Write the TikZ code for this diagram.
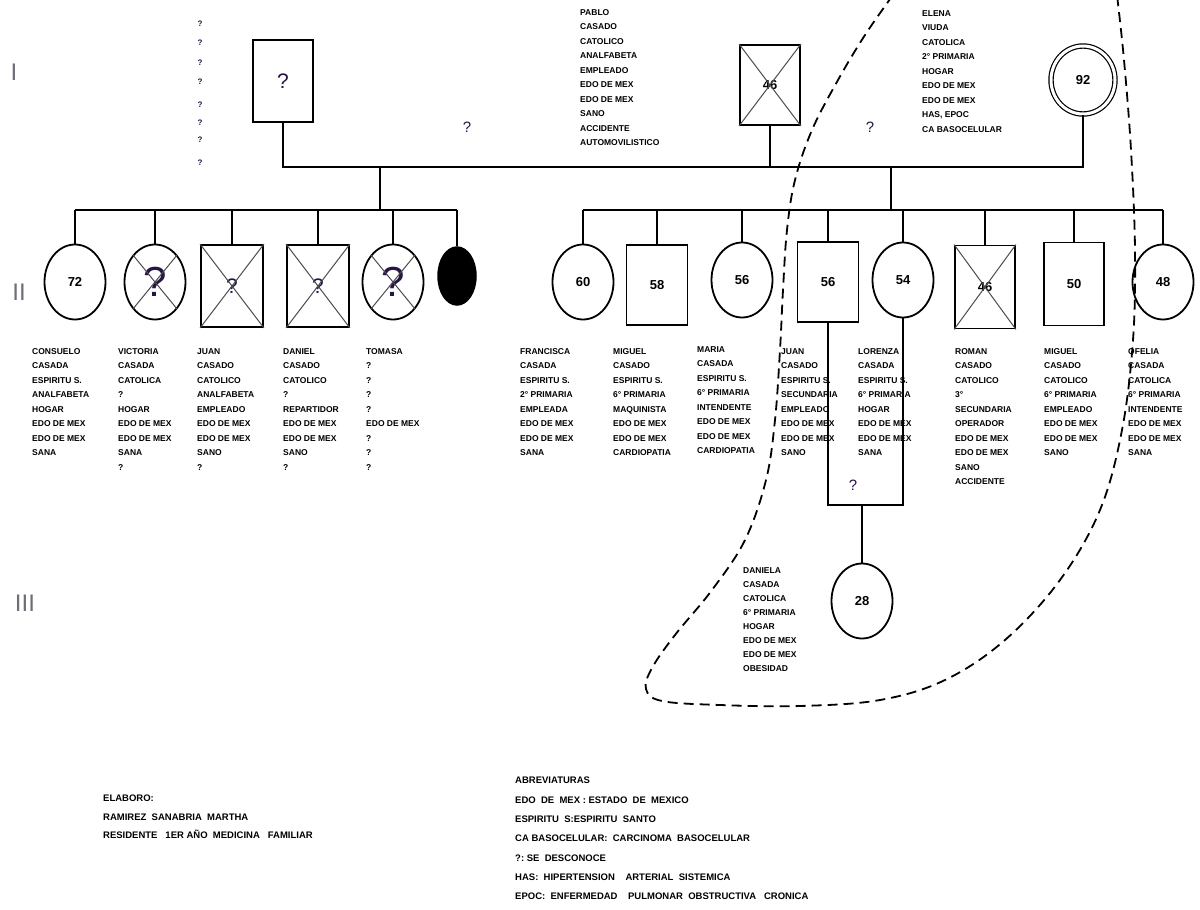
\documentclass[tikz,border=0pt]{standalone}
\usepackage{fontspec}
\setmainfont{Liberation Sans}
\usetikzlibrary{shapes.geometric}
\definecolor{gencol}{RGB}{110,110,120}
\definecolor{qcol}{RGB}{40,20,70}
\begin{document}
\begin{tikzpicture}[x=1pt,y=-1pt,
  sq/.style={draw,line width=1.8pt,rectangle,minimum width=61pt,minimum height=81pt,inner sep=0pt,font=\fontsize{13}{13}\selectfont\bfseries},
  ci/.style={draw,line width=1.8pt,ellipse,minimum width=61pt,minimum height=75pt,inner sep=0pt,font=\fontsize{13}{13}\selectfont\bfseries},
  info/.style={anchor=north west,align=left,inner sep=0pt,font=\fontsize{8.5}{14.5}\selectfont\bfseries},
  foot/.style={anchor=north west,align=left,inner sep=0pt,font=\fontsize{9.5}{19.3}\selectfont\bfseries},
  ln/.style={line width=1.8pt},
  xl/.style={line width=1pt,black!70},
  gen/.style={font=\fontsize{24}{24}\selectfont,text=gencol,inner sep=0pt},
  qm/.style={font=\fontsize{15}{15}\selectfont,text=qcol,inner sep=0pt},
  bigq/.style={font=\fontsize{42}{42}\selectfont,text=qcol},
  midq/.style={font=\fontsize{21}{21}\selectfont,text=qcol}
]
\clip (0,0) rectangle (1200,910);
\fill[white] (0,0) rectangle (1200,910);

% generation labels
\node[gen] (gI) at (14,72) {I};
\node[gen] (gII) at (19,292) {II};
\node[gen] (gIII) at (25,603) {III};

% column of question marks
\foreach \yy [count=\i] in {24,43,63,82,105,123,140,163}{
  \node[font=\fontsize{8}{8}\selectfont\bfseries,inner sep=0pt,text=qcol] (lq\i) at (200,\yy) {?};
}

% generation I
\node[sq,minimum width=60pt,minimum height=82pt] (gpa) at (283,81) {\fontsize{21}{21}\selectfont\mdseries\textcolor{qcol}{?}};
\node[sq,minimum width=60pt,minimum height=80pt] (pablo) at (770,85) {46};
\draw[xl] (pablo.north west) -- (pablo.south east) (pablo.north east) -- (pablo.south west);
\node[draw,ellipse,line width=1.2pt,double,double distance=3pt,minimum width=64pt,minimum height=68pt,inner sep=0pt,font=\fontsize{13}{13}\selectfont\bfseries] (abuela) at (1083,80) {92};

\node[qm] (q1) at (467,127) {?};
\node[qm] (q2) at (870,127) {?};

\coordinate (m1R) at (1083,167);
\draw[ln] (gpa.south) |- (m1R) -- (abuela.south);
\draw[ln] (pablo.south) -- (pablo.south |- m1R);

% sibship 1
\coordinate (s1a) at (380,167);
\coordinate (s1b) at (380,210);
\draw[ln] (s1a) -- (s1b);
\node[ci] (c72) at (75,282) {72};
\node[ci] (cvic) at (155,282) {};
\node[bigq] (qvic) at (155,282) {?};
\draw[xl] (cvic.north west) -- (cvic.south east) (cvic.north east) -- (cvic.south west);
\node[sq,minimum width=62pt,minimum height=82pt] (sjuan) at (232,286) {};
\node[midq] (qjuan) at (232,286) {?};
\draw[xl] (sjuan.north west) -- (sjuan.south east) (sjuan.north east) -- (sjuan.south west);
\node[sq,minimum width=62pt,minimum height=82pt] (sdan) at (318,286) {};
\node[midq] (qdan) at (318,286) {?};
\draw[xl] (sdan.north west) -- (sdan.south east) (sdan.north east) -- (sdan.south west);
\node[ci] (ctom) at (393,282) {};
\node[bigq] (qtom) at (393,282) {?};
\draw[xl] (ctom.north west) -- (ctom.south east) (ctom.north east) -- (ctom.south west);
\node[draw,fill=black,ellipse,line width=1.5pt,minimum width=38pt,minimum height=58pt,inner sep=0pt] (cblk) at (457,276) {};
\draw[ln] (c72.north |- s1b) -- (cblk.north |- s1b);
\foreach \n in {c72,cvic,sjuan,sdan,ctom,cblk}{\draw[ln] (\n.north) -- (\n.north |- s1b);}

% sibship 2
\coordinate (s2a) at (891,167);
\coordinate (s2b) at (891,210);
\draw[ln] (s2a) -- (s2b);
\node[ci] (c60) at (583,282) {60};
\node[sq,minimum width=61pt,minimum height=80pt] (s58) at (657,285) {58};
\node[ci] (c56) at (742,280) {56};
\node[sq,minimum width=61pt,minimum height=80pt] (s56) at (828,282) {56};
\node[ci] (c54) at (903,280) {54};
\node[sq,minimum width=60pt,minimum height=83pt] (s46) at (985,287) {46};
\draw[xl] (s46.north west) -- (s46.south east) (s46.north east) -- (s46.south west);
\node[sq,minimum width=60pt,minimum height=83pt] (s50) at (1074,284) {50};
\node[ci] (c48) at (1163,282) {48};
\draw[ln] (c60.north |- s2b) -- (c48.north |- s2b);
\foreach \n in {c60,s58,c56,s56,c54,s46,s50,c48}{\draw[ln] (\n.north) -- (\n.north |- s2b);}

% marriage of 56 and 54
\coordinate (m2R) at (903,505);
\coordinate (m2c) at (862,505);
\draw[ln] (s56.south) |- (m2R) -- (c54.south);
\node[qm] (q3) at (853,485) {?};
\node[ci] (c28) at (862,601) {28};
\draw[ln] (m2c) -- (c28.north);

% household dashed boundary
\draw[line width=1.8pt,dash pattern=on 10pt off 6pt] plot[smooth,tension=0.6] coordinates {
 (893,-5) (865,35) (838,80) (812,130) (795,180) (787,230) (783,290) (780,350) (775,420)
 (766,480) (745,540) (712,590) (675,635) (652,668) (646,689) (662,701) (720,705) (800,706)
 (880,700) (945,680) (1005,640) (1060,580) (1100,510) (1122,430) (1133,340) (1135,250)
 (1131,150) (1124,60) (1117,-5)};

% info texts, generation I
\node[info] (tpablo) at (580,9) {PABLO\\CASADO\\CATOLICO\\ANALFABETA\\EMPLEADO\\EDO DE MEX\\EDO DE MEX\\SANO\\ACCIDENTE\\AUTOMOVILISTICO};
\node[info] (tabuela) at (922,10) {ELENA\\VIUDA\\CATOLICA\\2° PRIMARIA\\HOGAR\\EDO DE MEX\\EDO DE MEX\\HAS, EPOC\\CA BASOCELULAR};

% info texts, generation II
\node[info] (t1) at (32,348) {CONSUELO\\CASADA\\ESPIRITU S.\\ANALFABETA\\HOGAR\\EDO DE MEX\\EDO DE MEX\\SANA};
\node[info] (t2) at (118,348) {VICTORIA\\CASADA\\CATOLICA\\?\\HOGAR\\EDO DE MEX\\EDO DE MEX\\SANA\\?};
\node[info] (t3) at (197,348) {JUAN\\CASADO\\CATOLICO\\ANALFABETA\\EMPLEADO\\EDO DE MEX\\EDO DE MEX\\SANO\\?};
\node[info] (t4) at (283,348) {DANIEL\\CASADO\\CATOLICO\\?\\REPARTIDOR\\EDO DE MEX\\EDO DE MEX\\SANO\\?};
\node[info] (t5) at (366,348) {TOMASA\\?\\?\\?\\?\\EDO DE MEX\\?\\?\\?};
\node[info] (t6) at (520,348) {FRANCISCA\\CASADA\\ESPIRITU S.\\2° PRIMARIA\\EMPLEADA\\EDO DE MEX\\EDO DE MEX\\SANA};
\node[info] (t7) at (613,348) {MIGUEL\\CASADO\\ESPIRITU S.\\6° PRIMARIA\\MAQUINISTA\\EDO DE MEX\\EDO DE MEX\\CARDIOPATIA};
\node[info] (t8) at (697,346) {MARIA\\CASADA\\ESPIRITU S.\\6° PRIMARIA\\INTENDENTE\\EDO DE MEX\\EDO DE MEX\\CARDIOPATIA};
\node[info] (t9) at (781,348) {JUAN\\CASADO\\ESPIRITU S.\\SECUNDARIA\\EMPLEADO\\EDO DE MEX\\EDO DE MEX\\SANO};
\node[info] (t10) at (858,348) {LORENZA\\CASADA\\ESPIRITU S.\\6° PRIMARIA\\HOGAR\\EDO DE MEX\\EDO DE MEX\\SANA};
\node[info] (t11) at (955,348) {ROMAN\\CASADO\\CATOLICO\\3°\\SECUNDARIA\\OPERADOR\\EDO DE MEX\\EDO DE MEX\\SANO\\ACCIDENTE};
\node[info] (t12) at (1044,348) {MIGUEL\\CASADO\\CATOLICO\\6° PRIMARIA\\EMPLEADO\\EDO DE MEX\\EDO DE MEX\\SANO};
\node[info] (t13) at (1128,348) {OFELIA\\CASADA\\CATOLICA\\6° PRIMARIA\\INTENDENTE\\EDO DE MEX\\EDO DE MEX\\SANA};

% generation III
\node[info,font=\fontsize{8.5}{14}\selectfont\bfseries] (t14) at (743,567) {DANIELA\\CASADA\\CATOLICA\\6° PRIMARIA\\HOGAR\\EDO DE MEX\\EDO DE MEX\\OBESIDAD};

% footer
\node[foot,font=\fontsize{9.5}{18.5}\selectfont\bfseries] (elab) at (103,795) {ELABORO:\\RAMIREZ\ \ SANABRIA\ \ MARTHA\\RESIDENTE\ \ \ 1ER AÑO\ \ MEDICINA\ \ \ FAMILIAR};
\node[foot] (abrev) at (515,777) {ABREVIATURAS\\EDO\ \ DE\ \ MEX\ :\ ESTADO\ \ DE\ \ MEXICO\\ESPIRITU\ \ S:ESPIRITU\ \ SANTO\\CA BASOCELULAR:\ \ CARCINOMA\ \ BASOCELULAR\\?:\ SE\ \ DESCONOCE\\HAS:\ \ HIPERTENSION\ \ \ \ ARTERIAL\ \ SISTEMICA\\EPOC:\ \ ENFERMEDAD\ \ \ \ PULMONAR\ \ OBSTRUCTIVA\ \ \ CRONICA};
\end{tikzpicture}
\end{document}
